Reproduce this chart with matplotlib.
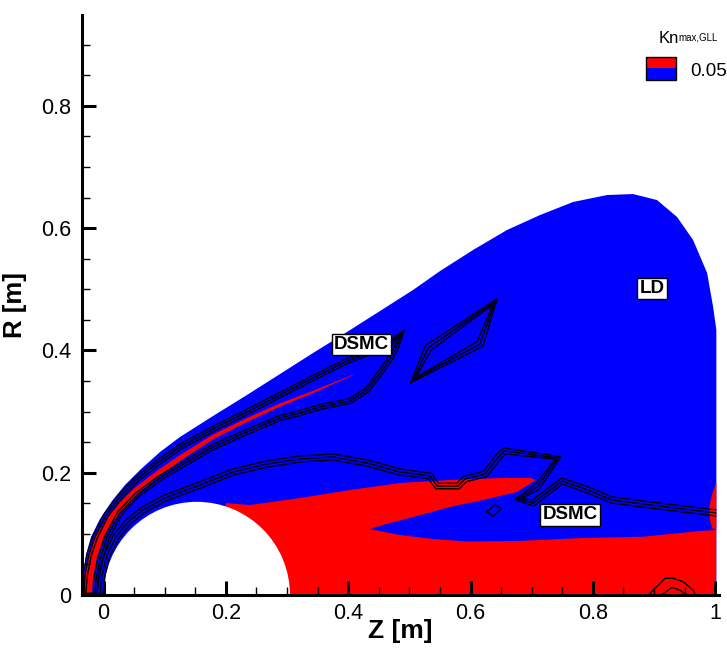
import numpy as np
import matplotlib
matplotlib.use("Agg")
import matplotlib.pyplot as plt
from matplotlib.patches import Polygon, Circle, Rectangle
from matplotlib.ticker import MultipleLocator, FuncFormatter

plt.rcParams['font.family'] = ['Liberation Sans', 'DejaVu Sans']

BLUE = '#0000ff'
RED = '#ff0000'

# ---------------------------------------------------------------- data [m]
# outer edge of the computed flow field (bow shock)
shock_z = [-0.0337, -0.0337, -0.0288, -0.0206, -0.0059, 0.0137, 0.0350, 0.0595,
           0.0922, 0.1249, 0.1789, 0.2345, 0.2885, 0.3424, 0.3980, 0.4520,
           0.5060, 0.5502, 0.6041, 0.6597, 0.7137, 0.7677, 0.8233, 0.8658,
           0.9050, 0.9378, 0.9640, 0.9869, 0.9967, 1.002, 1.002]
shock_r = [0.0, 0.0327, 0.0654, 0.0948, 0.1243, 0.1537, 0.1799, 0.2044,
           0.2338, 0.2584, 0.2927, 0.3271, 0.3614, 0.3957, 0.4301, 0.4644,
           0.4988, 0.5298, 0.5642, 0.5969, 0.6214, 0.6427, 0.6541, 0.6557,
           0.6459, 0.6181, 0.5805, 0.5266, 0.4710, 0.4334, 0.0]

# Kn_max,GLL > 0.05 region in the wake (upper arm, then lower part)
wake_z = [0.2002, 0.2394, 0.3212, 0.4029, 0.4847, 0.5665, 0.6482, 0.6973, 0.7071,
          0.6760, 0.6204, 0.5665, 0.5125, 0.4569, 0.4356,
          0.4847, 0.5387, 0.5943, 0.6760, 0.7840, 0.8821, 0.9376, 0.9752, 1.002,
          1.002, 0.1576]
wake_r = [0.1504, 0.1472, 0.1586, 0.1717, 0.1832, 0.1881, 0.1913, 0.1913, 0.1881,
          0.1684, 0.1553, 0.1439, 0.1292, 0.1145, 0.1079,
          0.0981, 0.0916, 0.0875, 0.0883, 0.0932, 0.0953, 0.1009, 0.1047, 0.1063,
          0.0, 0.0]

# Kn_max,GLL > 0.05 sliver at the outflow boundary
outflow_z = [1.002, 0.9948, 0.9899, 0.9915, 0.9948, 1.002]
outflow_r = [0.1853, 0.1635, 0.1423, 0.1226, 0.1096, 0.1063]

# thin Kn_max,GLL > 0.05 sheet behind the shock (centre line, half width)
sheet_z = [-0.0271, -0.0239, -0.0173, -0.0059, 0.0105, 0.0301, 0.0546, 0.0922,
           0.1249, 0.1789, 0.2345, 0.2885, 0.3424, 0.4078]
sheet_r = [0.0, 0.0327, 0.0654, 0.0948, 0.1226, 0.1472, 0.1717, 0.2011,
           0.2240, 0.2584, 0.2862, 0.3107, 0.3320, 0.3598]
sheet_hw = [0.0080, 0.0075, 0.0070, 0.0065, 0.0060, 0.0055, 0.0050, 0.0045,
            0.0040, 0.0035, 0.0030, 0.0025, 0.0018, 0.0005]

# DSMC / LD interface: shock-layer loop
dsmc_nose_z = [-0.0321, -0.0304, -0.0239, -0.0141, 0.0039, 0.0268, 0.0546, 0.0922,
               0.1249, 0.1789, 0.2345, 0.2885, 0.3424, 0.3980, 0.4356, 0.4683,
               0.4896,
               0.4765, 0.4651, 0.4471, 0.4307, 0.4029, 0.3539, 0.3212, 0.2885,
               0.2345, 0.1789, 0.1364, 0.0922, 0.0546, 0.0268, 0.0056, -0.0059,
               -0.0124, -0.0141]
dsmc_nose_r = [0.0, 0.0327, 0.0654, 0.0948, 0.1308, 0.1603, 0.1897, 0.2191,
               0.2420, 0.2714, 0.2993, 0.3271, 0.3549, 0.3827, 0.3974, 0.4121,
               0.4301,
               0.4006, 0.3810, 0.3565, 0.3352, 0.3172, 0.3074, 0.2976, 0.2894,
               0.2666, 0.2420, 0.2175, 0.1913, 0.1635, 0.1341, 0.0948, 0.0572,
               0.0245, 0.0]

# DSMC / LD interface: body surface and wake
dsmc_wake_z = [-0.0059, -0.0026, 0.0056, 0.0203, 0.0399, 0.0644, 0.1004, 0.1576,
               0.2116, 0.2672, 0.3212, 0.3751, 0.4307, 0.4847, 0.5338, 0.5452,
               0.5795, 0.5910, 0.6237, 0.6482, 0.6564, 0.7431, 0.7088, 0.6777,
               0.7022, 0.7497, 0.7922, 0.8314, 0.8935, 1.002]
dsmc_wake_r = [0.0, 0.0327, 0.0654, 0.0948, 0.1194, 0.1390, 0.1586, 0.1799,
               0.2011, 0.2142, 0.2224, 0.2257, 0.2159, 0.2011, 0.1946, 0.1782,
               0.1782, 0.1897, 0.1979, 0.2289, 0.2355, 0.2240, 0.1766, 0.1570,
               0.1504, 0.1864, 0.1717, 0.1553, 0.1472, 0.1341]

# DSMC / LD interface: islands
island_z = [0.5065, 0.5310, 0.6400, 0.6155]
island_r = [0.3516, 0.4044, 0.4796, 0.4105]
speck_z = [0.6265, 0.6400, 0.6510, 0.6370]
speck_r = [0.1363, 0.1472, 0.1417, 0.1288]
arch_outer_z = [0.8935, 0.9046, 0.9181, 0.9313, 0.9475, 0.9638, 0.9670]
arch_outer_r = [0.0027, 0.0136, 0.0273, 0.0273, 0.0218, 0.0082, 0.0016]
arch_inner_z = [0.9150, 0.9289, 0.9426, 0.9509]
arch_inner_r = [0.0016, 0.0125, 0.0082, 0.0016]

body_center = 0.1524
body_radius = 0.1524

region_labels = ["DSMC", "DSMC", "LD"]
label_z = [0.422, 0.763, 0.897]
label_r = [0.4097, 0.131, 0.5016]

legend_level = "0.05"

x_ticks = [0.0, 0.2, 0.4, 0.6, 0.8, 1.0]
y_ticks = [0.0, 0.2, 0.4, 0.6, 0.8]


# ---------------------------------------------------------------- helpers
def offset_path(z, r, d, closed=False):
    p = np.column_stack([z, r]).astype(float)
    if closed:
        seg = np.roll(p, -1, axis=0) - p
    else:
        seg = np.diff(p, axis=0)
    seg /= np.linalg.norm(seg, axis=1)[:, None]
    if closed:
        tin, tout = np.roll(seg, 1, axis=0), seg
    else:
        tin = np.vstack([seg[:1], seg])
        tout = np.vstack([seg, seg[-1:]])
    t = tin + tout
    bad = np.linalg.norm(t, axis=1) < 1e-6
    t[bad] = tout[bad]
    t /= np.linalg.norm(t, axis=1)[:, None]
    n = np.column_stack([-t[:, 1], t[:, 0]])
    q = p + d * n
    if closed:
        q = np.vstack([q, q[:1]])
    return q[:, 0], q[:, 1]


def contour_bundle(ax, z, r, spacing, closed=False, clip=None, n=3):
    offs = [0.0] if n == 1 else [-spacing, 0.0, spacing]
    for d in offs:
        qz, qr = offset_path(z, r, d, closed)
        ln, = ax.plot(qz, qr, color='black', lw=1.0, zorder=4,
                      solid_joinstyle='miter')
        if clip is not None:
            ln.set_clip_path(clip)


# ---------------------------------------------------------------- figure
fig = plt.figure(figsize=(7.27, 6.52), dpi=100)
ax = fig.add_axes([82 / 727, 57 / 652, 636.8 / 727, 580.3 / 652])
ax.set_xlim(-0.0353, 1.0060)
ax.set_ylim(0.0, 0.949)

shock = Polygon(np.column_stack([shock_z, shock_r]), closed=True,
                fc=BLUE, ec='none', zorder=1)
ax.add_patch(shock)

wake = Polygon(np.column_stack([wake_z, wake_r]), closed=True,
               fc=RED, ec='none', zorder=1.1)
ax.add_patch(wake)
wake.set_clip_path(shock)

outflow = Polygon(np.column_stack([outflow_z, outflow_r]), closed=True,
                  fc=RED, ec='none', zorder=1.1)
ax.add_patch(outflow)

sz, sr = np.asarray(sheet_z), np.asarray(sheet_r)
hw = np.asarray(sheet_hw)
up_z, up_r = offset_path(sz, sr, 1.0)
# variable width: scale the unit normal point by point
nz, nr = up_z - sz, up_r - sr
upper = np.column_stack([sz + nz * hw, sr + nr * hw])
lower = np.column_stack([sz - nz * hw, sr - nr * hw])
sheet = Polygon(np.vstack([upper, lower[::-1]]), closed=True,
                fc=RED, ec='none', zorder=1.2)
ax.add_patch(sheet)
sheet.set_clip_path(shock)

body = Circle((body_center, 0.0), body_radius, fc='white', ec='none', zorder=1.5)
ax.add_patch(body)

contour_bundle(ax, dsmc_nose_z, dsmc_nose_r, 0.004, closed=True, clip=shock)
contour_bundle(ax, dsmc_wake_z, dsmc_wake_r, 0.005, clip=shock)
contour_bundle(ax, island_z, island_r, 0.006, closed=True)
contour_bundle(ax, speck_z, speck_r, 0.0, closed=True, n=1)
contour_bundle(ax, arch_outer_z, arch_outer_r, 0.0, n=1)
contour_bundle(ax, arch_inner_z, arch_inner_r, 0.0, n=1)

for txt, lz, lr in zip(region_labels, label_z, label_r):
    ax.text(lz, lr, txt, fontsize=13.5, fontweight='bold', ha='center',
            va='center', zorder=6,
            bbox=dict(boxstyle='square,pad=0.12', fc='white', ec='black', lw=1.0))

# axes styling
for side in ('top', 'right'):
    ax.spines[side].set_visible(False)
for side in ('left', 'bottom'):
    ax.spines[side].set_linewidth(2.2)
    ax.spines[side].set_zorder(5)

ax.set_xticks(x_ticks)
ax.set_yticks(y_ticks)
ax.xaxis.set_minor_locator(MultipleLocator(0.05))
ax.yaxis.set_minor_locator(MultipleLocator(0.05))
fmt = FuncFormatter(lambda v, p: f"{v:g}")
ax.xaxis.set_major_formatter(fmt)
ax.yaxis.set_major_formatter(fmt)
ax.tick_params(which='major', direction='in', length=10, width=2.2,
               labelsize=15.5, pad=6)
ax.tick_params(which='minor', direction='in', length=6, width=1.0)
ax.tick_params(axis='y', which='major', pad=7.5)

ax.set_xlabel('Z [m]', fontsize=19, fontweight='bold')
ax.set_ylabel('R [m]', fontsize=18.5, fontweight='bold')
ax.xaxis.set_label_coords(0.5, -0.041)
ax.yaxis.set_label_coords(-0.087, 0.5)

# legend
fig.text(658.3 / 727, 1 - 43.3 / 652, 'Kn', fontsize=12, ha='left',
         va='baseline')
fig.text(678 / 727, 1 - 41 / 652, 'max,GLL', fontsize=7, ha='left',
         va='baseline')
fig.add_artist(Rectangle((646 / 727, 1 - 68 / 652), 29.7 / 727, 11.3 / 652,
                         transform=fig.transFigure, fc=RED, ec='none'))
fig.add_artist(Rectangle((646 / 727, 1 - 80 / 652), 29.7 / 727, 12 / 652,
                         transform=fig.transFigure, fc=BLUE, ec='none'))
fig.add_artist(Rectangle((646 / 727, 1 - 80 / 652), 29.7 / 727, 23.3 / 652,
                         transform=fig.transFigure, fc='none', ec='black', lw=1.0))
fig.text(690 / 727, 1 - 71.7 / 652, legend_level, fontsize=13.5, ha='left',
         va='center')

fig.savefig('out.png', dpi=100)
